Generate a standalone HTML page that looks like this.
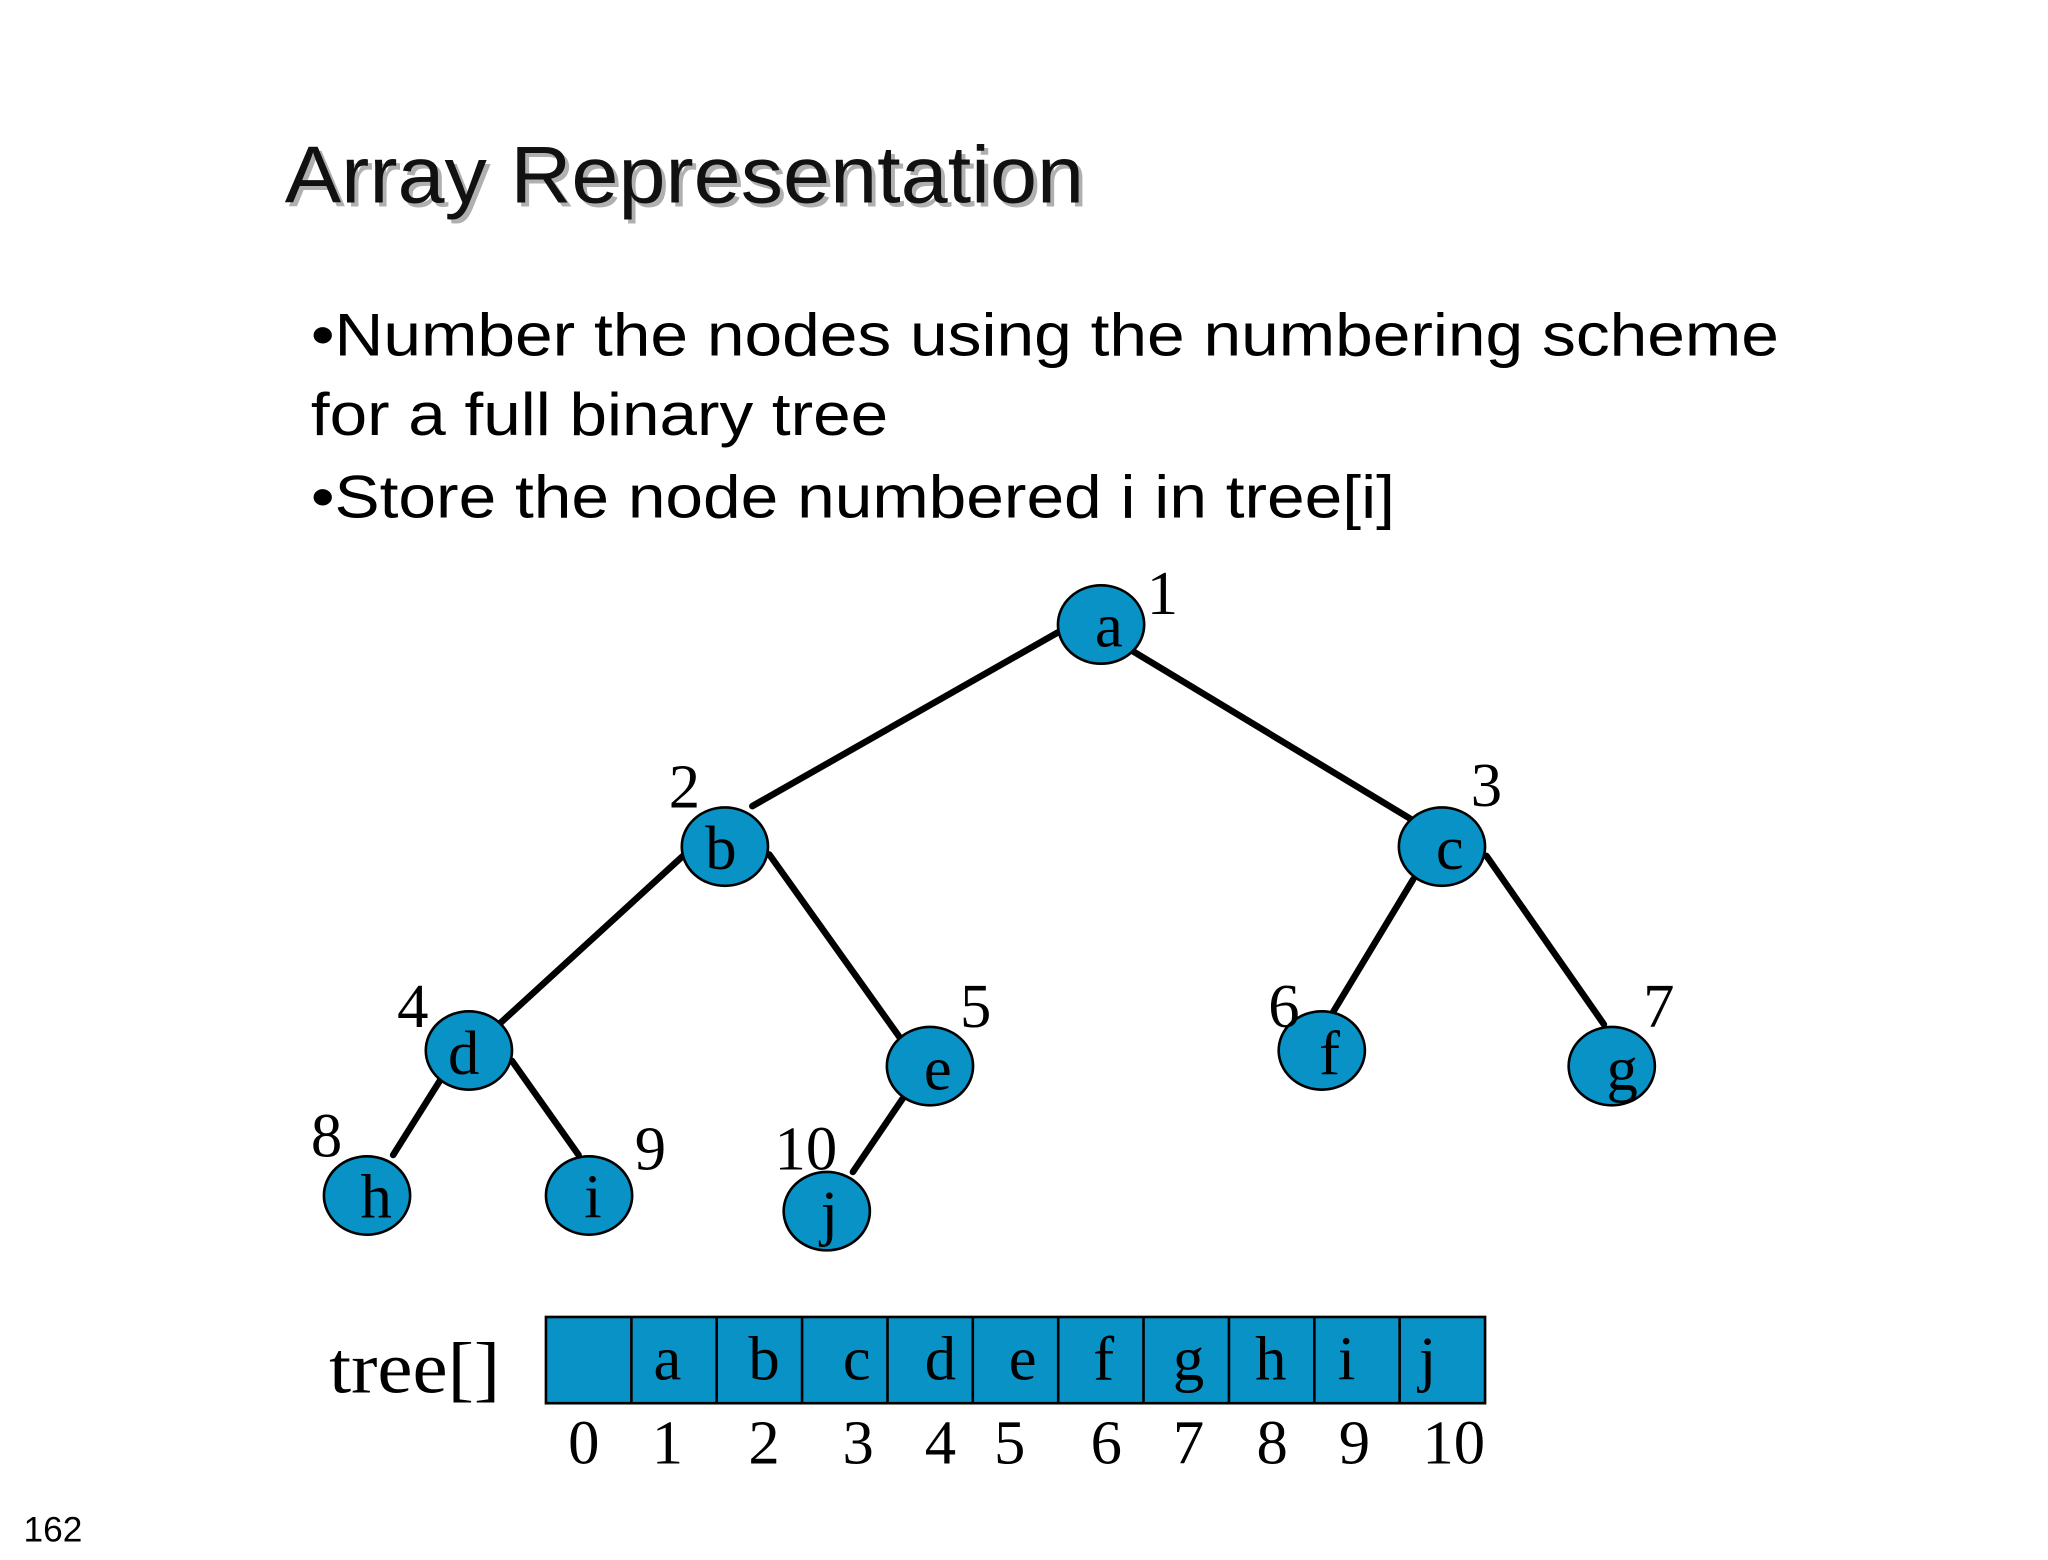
<!DOCTYPE html>
<html><head><meta charset="utf-8"><style>html,body{margin:0;padding:0;background:#fff}svg{display:block}</style></head>
<body>
<svg width="2048" height="1560" viewBox="0 0 1568 1194" preserveAspectRatio="none" xmlns="http://www.w3.org/2000/svg">
<rect width="1568" height="1194" fill="#fff"/>
<g font-family="Liberation Sans, sans-serif">
<text x="221" y="158" font-size="62" fill="#b0b0b0" textLength="612" lengthAdjust="spacingAndGlyphs">Array Representation</text>
<text x="218" y="155" font-size="62" fill="#111" textLength="612" lengthAdjust="spacingAndGlyphs">Array Representation</text>
<text x="238" y="272" font-size="46" fill="#000" textLength="1124" lengthAdjust="spacingAndGlyphs">•Number the nodes using the numbering scheme</text>
<text x="238" y="333" font-size="46" fill="#000" textLength="442" lengthAdjust="spacingAndGlyphs">for a full binary tree</text>
<text x="238" y="396" font-size="46" fill="#000" textLength="830" lengthAdjust="spacingAndGlyphs">•Store the node numbered i in tree[i]</text>
<text x="18" y="1180" font-size="27" fill="#000">162</text>
</g>
<g stroke="#000" stroke-width="5" stroke-linecap="round">
<line x1="810" y1="484" x2="576" y2="617"/>
<line x1="865" y1="497" x2="1082" y2="628"/>
<line x1="523" y1="655" x2="382" y2="784"/>
<line x1="589" y1="654" x2="691" y2="797"/>
<line x1="1082" y1="673" x2="1018" y2="779"/>
<line x1="1138" y1="655" x2="1228" y2="784"/>
<line x1="340" y1="822" x2="301" y2="884"/>
<line x1="392" y1="812" x2="443" y2="884"/>
<line x1="691" y1="841" x2="653" y2="897"/>
</g>
<g fill="#0892c6" stroke="#000" stroke-width="2">
<ellipse cx="843" cy="478" rx="33" ry="30"/>
<ellipse cx="555" cy="648" rx="33" ry="30"/>
<ellipse cx="1104" cy="648" rx="33" ry="30"/>
<ellipse cx="359" cy="804" rx="33" ry="30"/>
<ellipse cx="712" cy="816" rx="33" ry="30"/>
<ellipse cx="1012" cy="804" rx="33" ry="30"/>
<ellipse cx="1234" cy="816" rx="33" ry="30"/>
<ellipse cx="281" cy="915" rx="33" ry="30"/>
<ellipse cx="451" cy="915" rx="33" ry="30"/>
<ellipse cx="633" cy="927" rx="33" ry="30"/>
</g>
<g font-family="Liberation Serif, serif" font-size="48" fill="#000" text-anchor="middle">
<text x="849" y="495">a</text><text x="552" y="665">b</text><text x="1110" y="665">c</text>
<text x="355" y="822">d</text><text x="718" y="834">e</text><text x="1018" y="822">f</text>
<text x="1242" y="834">g</text><text x="288" y="932">h</text><text x="454" y="932">i</text><text x="635" y="944">j</text>
<text x="890" y="470">1</text><text x="524" y="618">2</text><text x="1138" y="617">3</text>
<text x="316" y="786">4</text><text x="747" y="786">5</text><text x="983" y="786">6</text>
<text x="1270" y="786">7</text><text x="250" y="885">8</text><text x="498" y="895">9</text><text x="617" y="895">10</text>
</g>
<g fill="#0892c6" stroke="#000" stroke-width="2">
<rect x="418" y="1008" width="719" height="66"/>
</g>
<g stroke="#000" stroke-width="2">
<line x1="483.4" y1="1008" x2="483.4" y2="1074"/><line x1="548.7" y1="1008" x2="548.7" y2="1074"/>
<line x1="614.1" y1="1008" x2="614.1" y2="1074"/><line x1="679.5" y1="1008" x2="679.5" y2="1074"/>
<line x1="744.8" y1="1008" x2="744.8" y2="1074"/><line x1="810.2" y1="1008" x2="810.2" y2="1074"/>
<line x1="875.5" y1="1008" x2="875.5" y2="1074"/><line x1="940.9" y1="1008" x2="940.9" y2="1074"/>
<line x1="1006.3" y1="1008" x2="1006.3" y2="1074"/><line x1="1071.6" y1="1008" x2="1071.6" y2="1074"/>
</g>
<g font-family="Liberation Serif, serif" font-size="48" fill="#000" text-anchor="middle">
<text x="511" y="1056">a</text><text x="585" y="1056">b</text><text x="656" y="1056">c</text><text x="720" y="1056">d</text>
<text x="783" y="1056">e</text><text x="845" y="1056">f</text><text x="910" y="1056">g</text><text x="973" y="1056">h</text>
<text x="1031" y="1056">i</text><text x="1093" y="1056">j</text>
<text x="447" y="1120">0</text><text x="511" y="1120">1</text><text x="585" y="1120">2</text><text x="657" y="1120">3</text>
<text x="720" y="1120">4</text><text x="773" y="1120">5</text><text x="847" y="1120">6</text><text x="910" y="1120">7</text>
<text x="974" y="1120">8</text><text x="1037" y="1120">9</text><text x="1113" y="1120">10</text>
</g>
<text x="252" y="1066" font-family="Liberation Serif, serif" font-size="56" fill="#000" textLength="131" lengthAdjust="spacingAndGlyphs">tree[]</text>
</svg>
</body></html>
